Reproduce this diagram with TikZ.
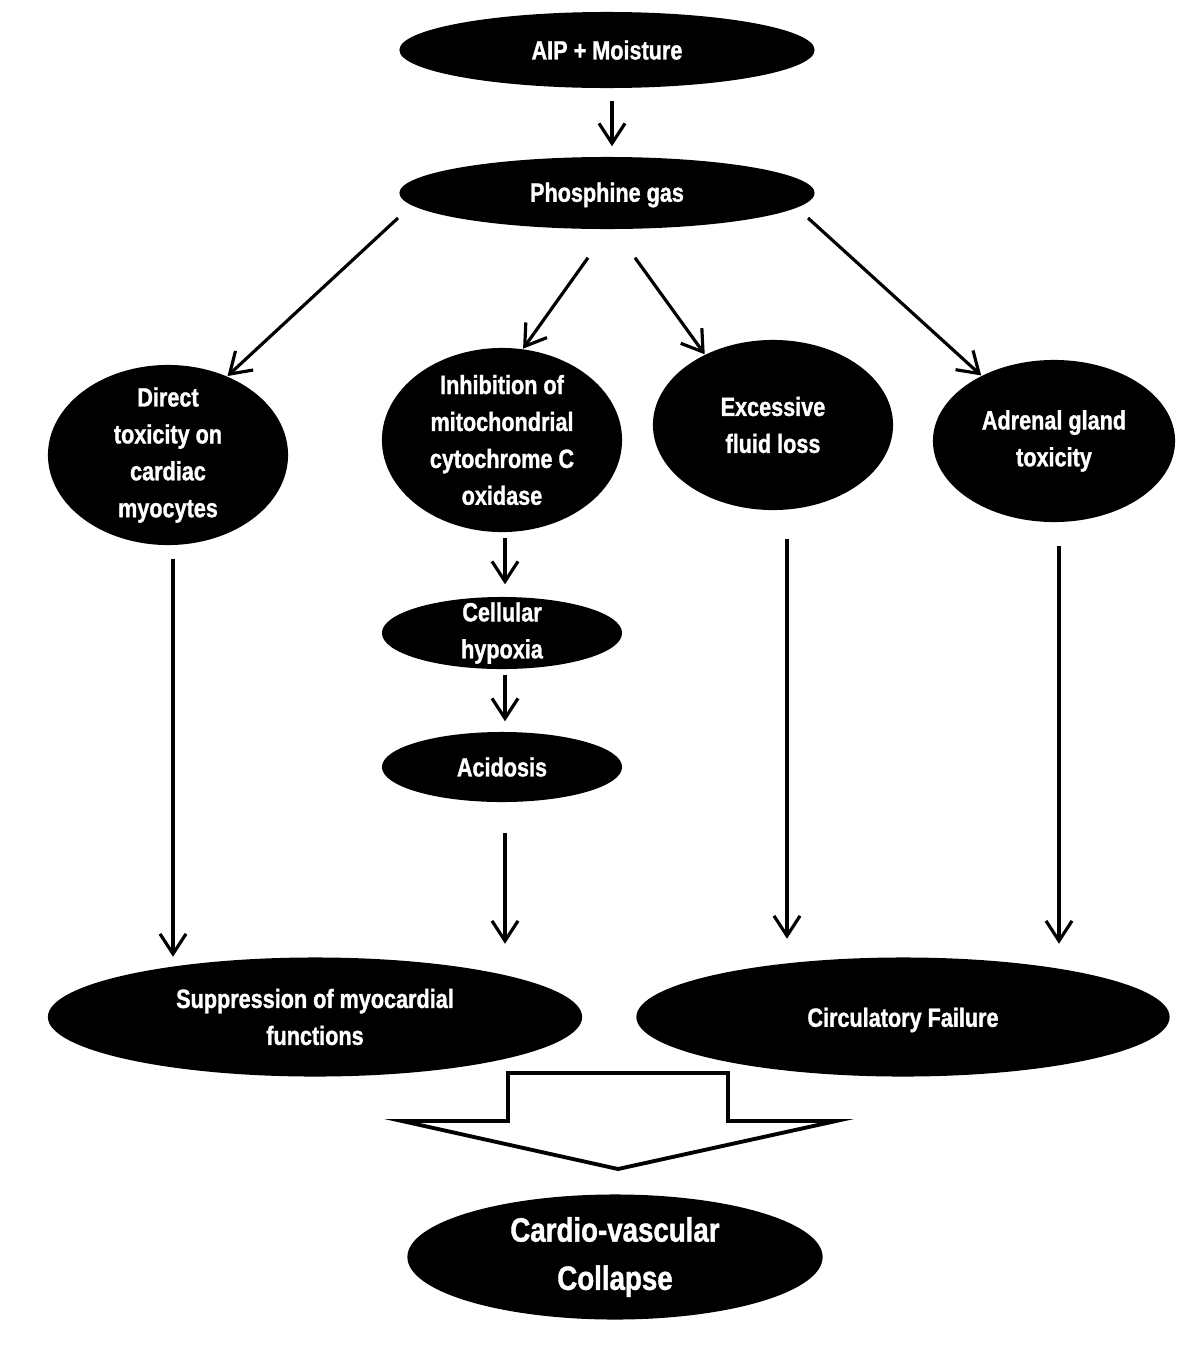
\documentclass[tikz,border=0pt]{standalone}
\usepackage{fontspec}
\setmainfont{Liberation Sans}[FakeStretch=0.82,FakeBold=1.2]
\usepackage{tikz}
\usetikzlibrary{arrows.meta,calc,positioning,shapes.geometric}
\tikzset{
  blob/.style={ellipse,fill=black,draw=none,inner sep=0pt},
  txt/.style={text=white,align=center,font=\bfseries\fontsize{7.5}{10.5}\selectfont},
  bigtxt/.style={text=white,align=center,font=\bfseries\fontsize{9.6}{13.7}\selectfont},
  arrow/.style={-{Straight Barb[length=2mm,width=2.6mm]},line width=0.9pt,draw=black},
  hollow/.style={draw=black,fill=white,line width=1.1pt,line join=miter}
}
\begin{document}
\begin{tikzpicture}[x=0.01cm,y=-0.01cm]
  \useasboundingbox (0,0) rectangle (1200,1351);
  % top chain
  \node[blob,minimum width=4.15cm,minimum height=0.76cm,label={[txt]center:AIP + Moisture}] (moist) at (607,50) {};
  \node[blob,minimum width=4.15cm,minimum height=0.72cm,label={[txt,yshift=-0.02cm]center:Phosphine gas}] (gas) at (607,193) {};

  % four effects
  \node[blob,minimum width=2.4cm,minimum height=1.8cm,
        label={[txt]center:Direct\\toxicity on\\cardiac\\myocytes}] (direct) at (168,455) {};
  \node[blob,minimum width=2.4cm,minimum height=1.84cm,
        label={[txt]center:Inhibition of\\mitochondrial\\cytochrome C\\oxidase}] (inh) at (502,440) {};
  \node[blob,minimum width=2.4cm,minimum height=1.7cm,
        label={[txt]center:Excessive\\fluid loss}] (fluid) at (773,425) {};
  \node[blob,minimum width=2.42cm,minimum height=1.62cm,
        label={[txt]center:Adrenal gland\\toxicity}] (adrenal) at (1054,441) {};

  \node[blob,minimum width=2.4cm,minimum height=0.72cm,label={[txt]center:Cellular\\hypoxia}] (hyp) at (502,633) {};
  \node[blob,minimum width=2.4cm,minimum height=0.7cm,label={[txt]center:Acidosis}] (acid) at (502,767) {};

  % outcomes
  \node[blob,minimum width=5.34cm,minimum height=1.19cm,
        label={[txt]center:Suppression of myocardial\\functions}] (supp) at (315,1017) {};
  \node[blob,minimum width=5.33cm,minimum height=1.19cm,
        label={[txt,yshift=-0.03cm]center:Circulatory Failure}] (circ) at (903,1017) {};
  \node[blob,minimum width=4.15cm,minimum height=1.25cm,
        label={[bigtxt]center:Cardio-vascular\\Collapse}] (cvc) at (615,1257) {};

  % connectors
  \draw[arrow,shorten <=1.2mm,shorten >=1mm] ([xshift=0.05cm]moist.south) -- ([xshift=0.05cm]gas.north);
  \draw[arrow] ($(gas)+(-209,25)$) -- (direct.53);
  \draw[arrow] ($(gas.south)+(-19,28)$) -- (inh.77);
  \draw[arrow] ($(gas.south)+(28,28)$) -- (fluid.134);
  \draw[arrow] ($(gas)+(201,25)$) -- (adrenal.138);

  \draw[arrow,shorten <=1.3mm] ([xshift=0.05cm]direct.south) -- ([xshift=0.05cm]direct.south |- supp.north);
  \draw[arrow,shorten <=0.5mm,shorten >=1.2mm] ([xshift=0.03cm]inh.south) -- ([xshift=0.03cm]hyp.north);
  \draw[arrow,shorten <=0.5mm,shorten >=1mm] ([xshift=0.03cm]hyp.south) -- ([xshift=0.03cm]acid.north);
  \draw[arrow,shorten <=3mm,shorten >=1.3mm] ([xshift=0.03cm]acid.south) -- ([xshift=0.03cm]acid.south |- supp.north);
  \draw[arrow,shorten <=2.8mm,shorten >=1.8mm] ([xshift=0.14cm]fluid.south) -- ([xshift=0.14cm]fluid.south |- circ.north);
  \draw[arrow,shorten <=2.3mm,shorten >=1.3mm] ([xshift=0.05cm]adrenal.south) -- ([xshift=0.05cm]adrenal.south |- circ.north);

  % block arrow to the collapse
  \draw[hollow] (508,1073) -- (728,1073) -- (728,1121) -- (836,1121) -- (618,1169)
    -- (402,1121) -- (508,1121) -- cycle;
\end{tikzpicture}
\end{document}
